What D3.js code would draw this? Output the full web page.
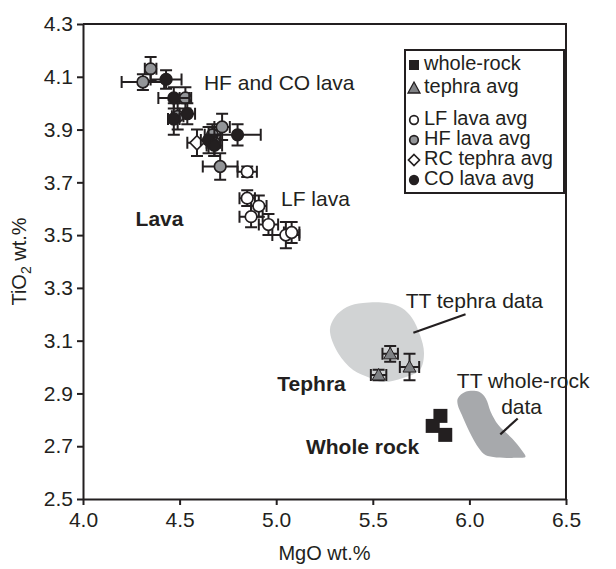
<!DOCTYPE html>
<html>
<head>
<meta charset="utf-8">
<script src="https://cdn.jsdelivr.net/npm/d3@7"></script>
<style>
  body { margin: 0; background: #fff; }
  text { font-family: "Liberation Sans", Arial, sans-serif; fill: #231f20; }
</style>
</head>
<body>
<svg id="chart" width="616" height="569"></svg>
<script>
// each point: [MgO, TiO2, MgO error, TiO2 error]
const lfLava = [
  [4.85, 3.74, 0.05, 0.02],
  [4.85, 3.64, 0.04, 0.03],
  [4.91, 3.61, 0.04, 0.04],
  [4.87, 3.57, 0.06, 0.04],
  [4.96, 3.54, 0.05, 0.04],
  [5.05, 3.50, 0.07, 0.05],
  [5.08, 3.51, 0.04, 0.04]
];
const hfLava = [
  [4.35, 4.13, 0.03, 0.045],
  [4.31, 4.08, 0.11, 0.03],
  [4.53, 4.02, 0.03, 0.04],
  [4.49, 3.95, 0.03, 0.05],
  [4.72, 3.91, 0.04, 0.05],
  [4.67, 3.88, 0.04, 0.04],
  [4.68, 3.85, 0.03, 0.05],
  [4.71, 3.76, 0.09, 0.05]
];
const rcTephra = [
  [4.59, 3.85, 0.05, 0.05]
];
const coLava = [
  [4.43, 4.09, 0.08, 0.035],
  [4.47, 4.02, 0.08, 0.04],
  [4.54, 3.96, 0.04, 0.04],
  [4.47, 3.94, 0.03, 0.06],
  [4.80, 3.88, 0.12, 0.04],
  [4.65, 3.86, 0.04, 0.05],
  [4.68, 3.84, 0.04, 0.04]
];
const tephraAvg = [
  [5.53, 2.97, 0.04, 0.02],
  [5.59, 3.05, 0.04, 0.03],
  [5.69, 3.00, 0.05, 0.05]
];
const wholeRock = [
  [5.85, 2.815],
  [5.81, 2.777],
  [5.875, 2.743]
];
// outlines of the TT data fields [MgO, TiO2]
const ttTephraField = [
  [5.278, 3.140], [5.304, 3.190], [5.366, 3.228], [5.449, 3.243], [5.573, 3.243],
  [5.651, 3.224], [5.703, 3.186], [5.744, 3.122], [5.765, 3.053], [5.744, 2.989],
  [5.656, 2.959], [5.553, 2.943], [5.486, 2.959], [5.398, 2.989], [5.320, 3.053]
];
const ttWholeRockField = [
  [5.94, 2.881], [5.98, 2.906], [6.05, 2.906], [6.085, 2.881], [6.11, 2.831],
  [6.15, 2.780], [6.22, 2.730], [6.27, 2.686], [6.29, 2.660], [6.255, 2.656],
  [6.085, 2.666], [6.05, 2.691], [6.00, 2.755], [5.96, 2.820], [5.94, 2.856]
];
const xTicks = [4.0, 4.5, 5.0, 5.5, 6.0, 6.5];
const yTicks = [2.5, 2.7, 2.9, 3.1, 3.3, 3.5, 3.7, 3.9, 4.1, 4.3];

const legendItems = [
  { label: "whole-rock", kind: "square" },
  { label: "tephra avg", kind: "triangle" },
  { label: "LF lava avg", kind: "circle", fill: "#fff" },
  { label: "HF lava avg", kind: "circle", fill: "#939598" },
  { label: "RC tephra avg", kind: "diamond" },
  { label: "CO lava avg", kind: "circle", fill: "#231f20" }
];

const ink = "#231f20";
const svg = d3.select("#chart");
const m = { left: 83, right: 566, top: 24, bottom: 499 };

const x = d3.scaleLinear().domain([4.0, 6.5]).range([m.left, m.right]);
const y = d3.scaleLinear().domain([2.5, 4.3]).range([m.bottom, m.top]);

// data fields
const line = d3.line().x(d => x(d[0])).y(d => y(d[1])).curve(d3.curveCatmullRomClosed);
svg.append("path").attr("d", line(ttTephraField)).attr("fill", "#d1d3d4");
svg.append("path").attr("d", line(ttWholeRockField)).attr("fill", "#a7a9ac");

// leader lines
svg.append("line")
  .attr("x1", x(5.71)).attr("y1", y(3.13)).attr("x2", x(5.98)).attr("y2", y(3.20))
  .attr("stroke", ink).attr("stroke-width", 2.2);
svg.append("line")
  .attr("x1", x(6.16)).attr("y1", y(2.745)).attr("x2", x(6.25)).attr("y2", y(2.805))
  .attr("stroke", ink).attr("stroke-width", 2.2);

// axes
const xAxis = d3.axisBottom(x).tickValues(xTicks).tickFormat(d3.format(".1f")).tickSize(6).tickSizeOuter(0);
const yAxis = d3.axisLeft(y).tickValues(yTicks).tickFormat(d3.format(".1f")).tickSize(6).tickSizeOuter(0);

const gx = svg.append("g").attr("transform", `translate(0,${m.bottom})`).call(xAxis);
const gy = svg.append("g").attr("transform", `translate(${m.left},0)`).call(yAxis);
[gx, gy].forEach(g => {
  g.select(".domain").attr("stroke", ink).attr("stroke-width", 2);
  g.selectAll(".tick line").attr("stroke", ink).attr("stroke-width", 2);
  g.selectAll(".tick text").attr("font-size", 21).attr("fill", ink)
    .style("font-family", '"Liberation Sans", Arial, sans-serif');
});
gx.selectAll(".tick text").attr("dy", "0.9em");
gy.selectAll(".tick text").attr("dx", "-0.05em");

// top and right frame
svg.append("path")
  .attr("d", `M${m.left},${m.top}H${m.right}V${m.bottom}`)
  .attr("fill", "none").attr("stroke", ink).attr("stroke-width", 2);

// axis titles
svg.append("text").attr("x", (m.left + m.right) / 2).attr("y", 560)
  .attr("text-anchor", "middle").attr("font-size", 20).text("MgO wt.%");
const yt = svg.append("text")
  .attr("transform", `translate(26,${(m.top + m.bottom) / 2}) rotate(-90)`)
  .attr("text-anchor", "middle").attr("font-size", 20);
yt.append("tspan").text("TiO");
yt.append("tspan").attr("font-size", 14).attr("dy", 5).text("2");
yt.append("tspan").attr("dy", -5).text(" wt.%");

// error bars + markers
const cap = 6;
function errorBars(data) {
  const g = svg.append("g").attr("stroke", ink).attr("stroke-width", 2).attr("fill", "none");
  data.forEach(d => {
    const cx = x(d[0]), cy = y(d[1]);
    const x0 = x(d[0] - d[2]), x1 = x(d[0] + d[2]);
    const y0 = y(d[1] - d[3]), y1 = y(d[1] + d[3]);
    g.append("path").attr("d",
      `M${x0},${cy}H${x1}M${x0},${cy - cap}V${cy + cap}M${x1},${cy - cap}V${cy + cap}` +
      `M${cx},${y0}V${y1}M${cx - cap},${y0}H${cx + cap}M${cx - cap},${y1}H${cx + cap}`);
  });
}

function symbolPath(kind, cx, cy) {
  if (kind === "diamond") return `M${cx},${cy - 7}L${cx + 7},${cy}L${cx},${cy + 7}L${cx - 7},${cy}Z`;
  if (kind === "triangle") return `M${cx},${cy - 6.5}L${cx + 6.5},${cy + 5}L${cx - 6.5},${cy + 5}Z`;
  if (kind === "square") return `M${cx - 7},${cy - 7}h14v14h-14Z`;
  return null;
}

function circles(data, fill) {
  svg.append("g").selectAll("circle").data(data).join("circle")
    .attr("cx", d => x(d[0])).attr("cy", d => y(d[1])).attr("r", 5.8)
    .attr("fill", fill).attr("stroke", ink).attr("stroke-width", 1.7);
}

errorBars(lfLava); circles(lfLava, "#fff");
errorBars(hfLava); circles(hfLava, "#939598");
errorBars(rcTephra);
svg.append("g").selectAll("path").data(rcTephra).join("path")
  .attr("d", d => symbolPath("diamond", x(d[0]), y(d[1])))
  .attr("fill", "#fff").attr("stroke", ink).attr("stroke-width", 1.7);
errorBars(coLava); circles(coLava, ink);

errorBars(tephraAvg);
svg.append("g").selectAll("path").data(tephraAvg).join("path")
  .attr("d", d => symbolPath("triangle", x(d[0]), y(d[1])))
  .attr("fill", "#808285").attr("stroke", ink).attr("stroke-width", 1);

svg.append("g").selectAll("path").data(wholeRock).join("path")
  .attr("d", d => symbolPath("square", x(d[0]), y(d[1])))
  .attr("fill", ink);

// annotations
function note(txt, mx, ty, opts = {}) {
  svg.append("text").attr("x", x(mx)).attr("y", y(ty))
    .attr("font-size", opts.size || 21)
    .attr("font-weight", opts.bold ? "bold" : "normal")
    .attr("text-anchor", opts.anchor || "start")
    .attr("dominant-baseline", "middle")
    .text(txt);
}
note("HF and CO lava", 4.626, 4.07);
note("LF lava", 5.025, 3.63);
note("Lava", 4.52, 3.555, { bold: true, anchor: "end" });
note("TT tephra data", 5.67, 3.245);
note("Tephra", 5.36, 2.93, { bold: true, anchor: "end" });
note("TT whole-rock", 5.935, 2.94);
note("data", 6.27, 2.843, { anchor: "middle" });
note("Whole rock", 5.74, 2.69, { bold: true, anchor: "end" });

// legend
const lx = 405, ly = 50, lw = 159;
const rowY = [65, 88, 120, 140, 160, 180];
const leg = svg.append("g");
leg.append("rect").attr("x", lx).attr("y", ly).attr("width", lw).attr("height", 143)
  .attr("fill", "#fff").attr("stroke", ink).attr("stroke-width", 2);
legendItems.forEach((it, i) => {
  const cy = rowY[i], cx = 414;
  if (it.kind === "circle") {
    leg.append("circle").attr("cx", cx).attr("cy", cy).attr("r", 4.3)
      .attr("fill", it.fill).attr("stroke", ink).attr("stroke-width", 1.7);
  } else if (it.kind === "square") {
    leg.append("rect").attr("x", cx - 5).attr("y", cy - 5).attr("width", 10).attr("height", 10).attr("fill", ink);
  } else if (it.kind === "triangle") {
    leg.append("path").attr("d", `M${cx},${cy - 6}L${cx + 6},${cy + 5}L${cx - 6},${cy + 5}Z`)
      .attr("fill", "#808285").attr("stroke", ink).attr("stroke-width", 1.3);
  } else {
    leg.append("path").attr("d", `M${cx},${cy - 5.5}L${cx + 5.5},${cy}L${cx},${cy + 5.5}L${cx - 5.5},${cy}Z`)
      .attr("fill", "#fff").attr("stroke", ink).attr("stroke-width", 1.7);
  }
  leg.append("text").attr("x", 424).attr("y", cy).attr("dominant-baseline", "middle")
    .attr("font-size", 20).text(it.label);
});
</script>
</body>
</html>
